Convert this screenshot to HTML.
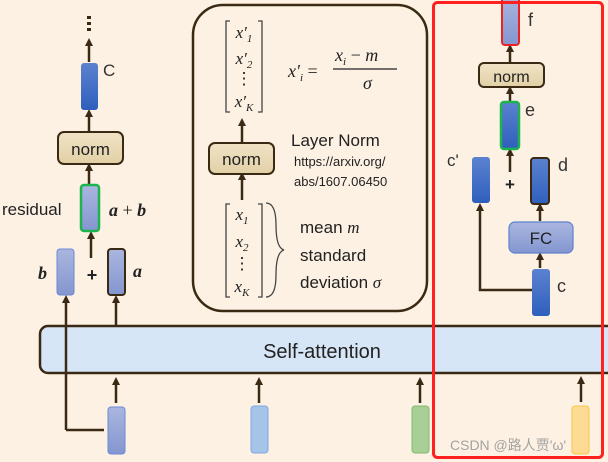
<!DOCTYPE html>
<html><head><meta charset="utf-8"><style>
body{margin:0;background:#fdf1e3;}
svg{display:block;font-family:"Liberation Sans","Noto Sans CJK SC",sans-serif;}
.m{font-family:"Liberation Serif",serif;font-style:italic;}
</style></head><body>
<svg width="608" height="462" viewBox="0 0 608 462">
<defs>
<marker id="ar" markerWidth="8" markerHeight="8" refX="4" refY="4" orient="auto" markerUnits="userSpaceOnUse"><path d="M0,0 L8,4 L0,8 z" fill="#3a2a14"/></marker>
<linearGradient id="db" x1="0" y1="0" x2="0" y2="1"><stop offset="0" stop-color="#5b82cf"/><stop offset="1" stop-color="#2f5fbd"/></linearGradient>
<linearGradient id="lb" x1="0" y1="0" x2="0" y2="1"><stop offset="0" stop-color="#aab6df"/><stop offset="1" stop-color="#8496d0"/></linearGradient>
<linearGradient id="nm" x1="0" y1="0" x2="0" y2="1"><stop offset="0" stop-color="#f0e3c6"/><stop offset="1" stop-color="#e2d0a6"/></linearGradient>
</defs>
<!-- self attention -->
<rect x="40" y="326" width="580" height="47" rx="8" fill="#d6e6f7" stroke="#3a2a14" stroke-width="2.5"/>
<text x="322" y="358" font-size="20" text-anchor="middle" fill="#222">Self-attention</text>
<g stroke="#3a2a14" stroke-width="2.5" fill="none">
<line x1="89" y1="62" x2="89" y2="42" marker-end="url(#ar)"/>
<line x1="89" y1="131" x2="89" y2="113" marker-end="url(#ar)"/>
<line x1="89" y1="184" x2="89" y2="167" marker-end="url(#ar)"/>
<line x1="91" y1="258" x2="91" y2="235" marker-end="url(#ar)"/>
<line x1="66" y1="430" x2="66" y2="299" marker-end="url(#ar)"/>
<polyline points="66,430 104,430"/>
<line x1="116" y1="326" x2="116" y2="299" marker-end="url(#ar)"/>
<line x1="116" y1="403" x2="116" y2="381" marker-end="url(#ar)"/>
<line x1="259" y1="403" x2="259" y2="381" marker-end="url(#ar)"/>
<line x1="420" y1="403" x2="420" y2="381" marker-end="url(#ar)"/>
<line x1="581" y1="402" x2="581" y2="380" marker-end="url(#ar)"/>
<line x1="242" y1="142" x2="242" y2="122" marker-end="url(#ar)"/>
<line x1="242" y1="200" x2="242" y2="176" marker-end="url(#ar)"/>
<line x1="510" y1="62" x2="510" y2="48" marker-end="url(#ar)"/>
<line x1="510" y1="101" x2="510" y2="90" marker-end="url(#ar)"/>
<line x1="510" y1="172" x2="510" y2="152" marker-end="url(#ar)"/>
<line x1="540" y1="221" x2="540" y2="207" marker-end="url(#ar)"/>
<line x1="540" y1="268" x2="540" y2="256" marker-end="url(#ar)"/>
<polyline points="532,290 480,290 480,207" marker-end="url(#ar)"/>
</g>
<g fill="#3a2a14"><rect x="87" y="16" width="4" height="3"/><rect x="87" y="22" width="4" height="3"/><rect x="87" y="28" width="4" height="3"/></g>
<rect x="81" y="63" width="17" height="47" rx="3" fill="url(#db)"/>
<text x="103" y="76" font-size="17" fill="#333">C</text>
<rect x="58" y="132" width="65" height="32" rx="6" fill="url(#nm)" stroke="#3a2a14" stroke-width="2"/>
<text x="90.5" y="155" font-size="17" text-anchor="middle" fill="#222">norm</text>
<rect x="81" y="185" width="18" height="46" rx="3" fill="url(#lb)" stroke="#1db34d" stroke-width="2.5"/>
<text x="2" y="215" font-size="17" fill="#222">residual</text>
<text x="109" y="216" font-size="18" class="m" font-weight="bold" fill="#222">a <tspan font-style="normal" font-weight="normal">+</tspan> b</text>
<rect x="57" y="249" width="17" height="46" rx="3" fill="url(#lb)" stroke="#6b8ad6" stroke-width="1"/>
<text x="38" y="279" font-size="18" class="m" font-weight="bold" fill="#222">b</text>
<text x="92" y="281" font-size="18" font-weight="bold" text-anchor="middle" fill="#222">+</text>
<rect x="108" y="249" width="17" height="46" rx="3" fill="url(#lb)" stroke="#3a2a14" stroke-width="2"/>
<text x="133" y="277" font-size="18" class="m" font-weight="bold" fill="#222">a</text>
<rect x="108" y="407" width="17" height="47" rx="3" fill="url(#lb)" stroke="#6b8ad6"/>
<rect x="251" y="406" width="17" height="47" rx="3" fill="#a6c4e8" stroke="#7fa8df"/>
<rect x="412" y="406" width="17" height="47" rx="3" fill="#a8cf96" stroke="#84ba6d"/>
<rect x="572" y="406" width="17" height="48" rx="3" fill="#fddb95" stroke="#f5c945"/>
<rect x="193" y="5" width="234" height="306" rx="30" fill="none" stroke="#3a2a14" stroke-width="2.5"/>
<g stroke="#444" stroke-width="1.3" fill="none">
<polyline points="230,21 226,21 226,112 230,112"/><polyline points="258,21 262,21 262,112 258,112"/>
<polyline points="230,204 226,204 226,297 230,297"/><polyline points="258,204 262,204 262,297 258,297"/>
<path d="M266,203 Q276,203 276,225 Q276,248 284,250 Q276,252 276,275 Q276,297 266,297"/>
</g>
<g class="m" font-size="17" fill="#222" text-anchor="middle">
<text x="244" y="38">x′<tspan font-size="11" dy="4">1</tspan></text>
<text x="244" y="64">x′<tspan font-size="11" dy="4">2</tspan></text>
<text x="244" y="84" font-style="normal">⋮</text>
<text x="244" y="107">x′<tspan font-size="11" dy="4">K</tspan></text>
<text x="242" y="220">x<tspan font-size="11" dy="4">1</tspan></text>
<text x="242" y="247">x<tspan font-size="11" dy="4">2</tspan></text>
<text x="242" y="269" font-style="normal">⋮</text>
<text x="242" y="292">x<tspan font-size="11" dy="4">K</tspan></text>
</g>
<text x="288" y="77" font-size="18" class="m" fill="#222">x′<tspan font-size="11" dy="4">i</tspan><tspan dy="-4" font-style="normal"> =</tspan></text>
<text x="335" y="61" font-size="18" class="m" fill="#222">x<tspan font-size="11" dy="4">i</tspan><tspan dy="-4" font-style="normal"> − </tspan>m</text>
<line x1="333" y1="69" x2="397" y2="69" stroke="#222" stroke-width="1.3"/>
<text x="363" y="89" font-size="18" class="m" fill="#222">σ</text>
<rect x="209" y="143" width="65" height="31" rx="6" fill="url(#nm)" stroke="#3a2a14" stroke-width="2"/>
<text x="241.5" y="165" font-size="17" text-anchor="middle" fill="#222">norm</text>
<text x="291" y="146" font-size="17" fill="#222">Layer Norm</text>
<text x="294" y="166" font-size="13" fill="#222">https://arxiv.org/</text>
<text x="294" y="186" font-size="13" fill="#222">abs/1607.06450</text>
<text x="300" y="233" font-size="17" fill="#222">mean <tspan class="m">m</tspan></text>
<text x="300" y="261" font-size="17" fill="#222">standard</text>
<text x="300" y="288" font-size="17" fill="#222">deviation <tspan class="m">σ</tspan></text>
<rect x="502" y="-4" width="17" height="49" rx="3" fill="url(#lb)" stroke="#ee2222" stroke-width="2"/>
<text x="528" y="26" font-size="18" fill="#333">f</text>
<rect x="479" y="63" width="65" height="24" rx="5" fill="url(#nm)" stroke="#3a2a14" stroke-width="2"/>
<text x="511.5" y="82" font-size="16" text-anchor="middle" fill="#222">norm</text>
<rect x="501" y="102" width="18" height="47" rx="3" fill="url(#db)" stroke="#1db34d" stroke-width="2.5"/>
<text x="525" y="116" font-size="18" fill="#333">e</text>
<text x="510" y="190" font-size="17" font-weight="bold" text-anchor="middle" fill="#222">+</text>
<text x="447" y="166" font-size="17" fill="#333">c'</text>
<rect x="472" y="157" width="18" height="46" rx="3" fill="url(#db)"/>
<rect x="531" y="158" width="18" height="46" rx="3" fill="url(#db)" stroke="#3a2a14" stroke-width="2"/>
<text x="558" y="171" font-size="18" fill="#333">d</text>
<rect x="509" y="222" width="64" height="31" rx="6" fill="url(#lb)" stroke="#5b82cf" stroke-width="1.2"/>
<text x="541" y="244" font-size="17" text-anchor="middle" fill="#222">FC</text>
<rect x="532" y="269" width="18" height="47" rx="3" fill="url(#db)"/>
<text x="557" y="292" font-size="18" fill="#333">c</text>
<rect x="433.5" y="2.5" width="169" height="455" rx="4" fill="none" stroke="#ff2020" stroke-width="3"/>
<text x="450" y="450" font-size="14" fill="#9a9a9a" opacity="0.9">CSDN @路人贾'ω'</text>
</svg>
</body></html>
